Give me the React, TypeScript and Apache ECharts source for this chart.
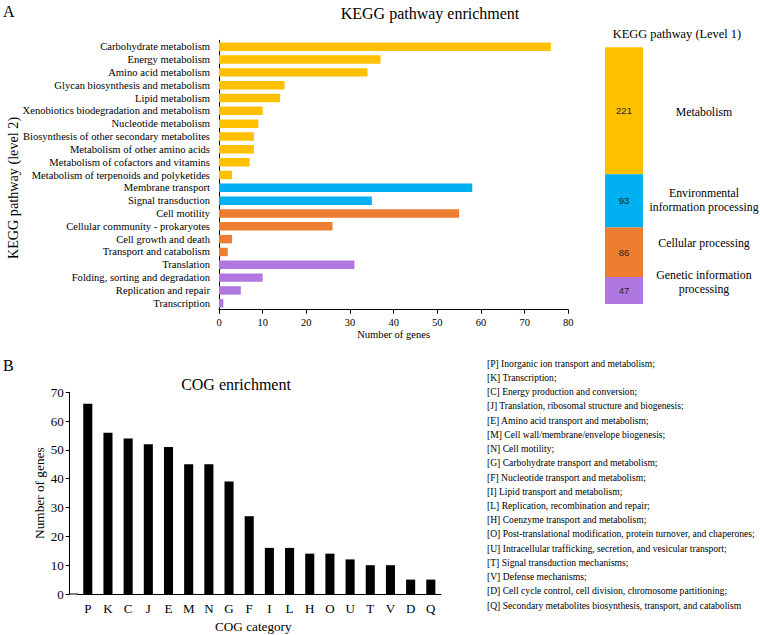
import React, { useEffect, useRef } from "react";
import * as echarts from "echarts";

const keggNames = [
  "Carbohydrate metabolism",
  "Energy metabolism",
  "Amino acid metabolism",
  "Glycan biosynthesis and metabolism",
  "Lipid metabolism",
  "Xenobiotics biodegradation and metabolism",
  "Nucleotide metabolism",
  "Biosynthesis of other secondary metabolites",
  "Metabolism of other amino acids",
  "Metabolism of cofactors and vitamins",
  "Metabolism of terpenoids and polyketides",
  "Membrane transport",
  "Signal transduction",
  "Cell motility",
  "Cellular community - prokaryotes",
  "Cell growth and death",
  "Transport and catabolism",
  "Translation",
  "Folding, sorting and degradation",
  "Replication and repair",
  "Transcription",
];
const keggCounts = [76, 37, 34, 15, 14, 10, 9, 8, 8, 7, 3, 58, 35, 55, 26, 3, 2, 31, 10, 5, 1];
const keggGroup = [0, 0, 0, 0, 0, 0, 0, 0, 0, 0, 0, 1, 1, 2, 2, 2, 2, 3, 3, 3, 3];
const keggTicks = { min: 0, max: 80, interval: 10 };

const level1Names = [
  "Metabolism",
  "Environmental\ninformation processing",
  "Cellular processing",
  "Genetic information\nprocessing",
];
const level1Counts = [221, 93, 86, 47];
const groupColors = ["#FFC000", "#00B0F0", "#ED7D31", "#B077E0"];

const cogCats = ["P", "K", "C", "J", "E", "M", "N", "G", "F", "I", "L", "H", "O", "U", "T", "V", "D", "Q"];
const cogCounts = [66, 56, 54, 52, 51, 45, 45, 39, 27, 16, 16, 14, 14, 12, 10, 10, 5, 5];
const cogTicks = { min: 0, max: 70, interval: 10 };
const cogDescriptions = [
  "[P] Inorganic ion transport and metabolism;",
  "[K] Transcription;",
  "[C] Energy production and conversion;",
  "[J] Translation, ribosomal structure and biogenesis;",
  "[E] Amino acid transport and metabolism;",
  "[M] Cell wall/membrane/envelope biogenesis;",
  "[N] Cell motility;",
  "[G] Carbohydrate transport and metabolism;",
  "[F] Nucleotide transport and metabolism;",
  "[I] Lipid transport and metabolism;",
  "[L] Replication, recombination and repair;",
  "[H] Coenzyme transport and metabolism;",
  "[O] Post-translational modification, protein turnover, and chaperones;",
  "[U] Intracellular trafficking, secretion, and vesicular transport;",
  "[T] Signal transduction mechanisms;",
  "[V] Defense mechanisms;",
  "[D] Cell cycle control, cell division, chromosome partitioning;",
  "[Q] Secondary metabolites biosynthesis, transport, and catabolism",
];

const SERIF = '"Times New Roman", "Liberation Serif", serif';
const SANS = 'Arial, "Liberation Sans", sans-serif';

function txt(text: string, x: number, y: number, size: number, align = "center", extra: any = {}) {
  return {
    type: "text",
    x,
    y,
    silent: true,
    ...extra,
    style: {
      text,
      fill: "#000",
      fontSize: size,
      fontFamily: SERIF,
      textAlign: align,
      align,
      textVerticalAlign: "middle",
      verticalAlign: "middle",
      ...(extra.style || {}),
    },
  };
}

export default function App() {
  const ref = useRef<HTMLDivElement>(null);
  useEffect(() => {
    if (!ref.current) return;
    const chart = echarts.init(ref.current, undefined, { renderer: "svg" });
    const total = level1Counts.reduce((a, b) => a + b, 0);
    const level1Y = [111.7, 200, 242.7, 282.2];
    const level1LH = [13, 13.4, 13, 14.3];

    const graphic: any[] = [
      txt("A", 3, 11, 16, "left"),
      txt("B", 3, 365, 16, "left"),
      txt("KEGG pathway enrichment", 430, 13, 16),
      txt("COG enrichment", 236, 384, 16),
      txt("KEGG pathway (Level 1)", 677, 34, 12.4),
      txt("KEGG pathway (level 2)", 13, 188, 14.2, "center", { rotation: Math.PI / 2 }),
      {
        type: "line",
        silent: true,
        shape: { x1: 69.7, y1: 594, x2: 78, y2: 594 },
        style: { stroke: "#000", lineWidth: 1 },
      },
    ];
    level1Names.forEach((n, i) => {
      graphic.push(txt(n, 704, level1Y[i], 11.8, "center", { style: { lineHeight: level1LH[i] } }));
    });
    cogDescriptions.forEach((d, i) => {
      graphic.push(txt(d, 487, 363.3 + i * 14.22, 9.6, "left"));
    });

    const option: any = {
      animation: false,
      backgroundColor: "#fff",
      grid: [
        { left: 219, top: 40.3, width: 349.3, height: 269.4 },
        { left: 605, top: 47.3, width: 38, height: 256.7 },
        { left: 77.7, top: 392.3, width: 363.2, height: 201.7 },
      ],
      xAxis: [
        {
          gridIndex: 0,
          type: "value",
          ...keggTicks,
          name: "Number of genes",
          nameLocation: "middle",
          nameGap: 17,
          nameTextStyle: { fontFamily: SERIF, fontSize: 10.6, color: "#000" },
          axisLine: { show: true, lineStyle: { color: "#000", width: 1 } },
          axisTick: { show: true, length: 4, lineStyle: { color: "#000" } },
          axisLabel: { fontFamily: SERIF, fontSize: 10.5, color: "#000", margin: 7 },
          splitLine: { show: false },
        },
        {
          gridIndex: 1,
          type: "category",
          data: ["Level 1"],
          show: false,
        },
        {
          gridIndex: 2,
          type: "category",
          data: cogCats,
          name: "COG category",
          nameLocation: "middle",
          nameGap: 25.5,
          nameTextStyle: { fontFamily: SERIF, fontSize: 13.2, color: "#000", padding: [0, 12, 0, 0] },
          axisLine: { show: true, lineStyle: { color: "#000", width: 1 } },
          axisTick: { show: false },
          axisLabel: { fontFamily: SERIF, fontSize: 13, color: "#000", margin: 8, interval: 0 },
        },
      ],
      yAxis: [
        {
          gridIndex: 0,
          type: "category",
          data: keggNames,
          inverse: true,
          axisLine: { show: true, lineStyle: { color: "#000", width: 1 } },
          axisTick: { show: false },
          axisLabel: { fontFamily: SERIF, fontSize: 10.6, color: "#000", margin: 9, interval: 0 },
        },
        {
          gridIndex: 1,
          type: "value",
          min: 0,
          max: total,
          inverse: true,
          show: false,
        },
        {
          gridIndex: 2,
          type: "value",
          ...cogTicks,
          offset: 8,
          name: "Number of genes",
          nameLocation: "middle",
          nameGap: 24,
          nameTextStyle: { fontFamily: SERIF, fontSize: 13.3, color: "#000" },
          axisLine: { show: true, lineStyle: { color: "#000", width: 1 } },
          axisTick: { show: true, length: 4, lineStyle: { color: "#000" } },
          axisLabel: { fontFamily: SERIF, fontSize: 13, color: "#000", margin: 6 },
          splitLine: { show: false },
        },
      ],
      series: [
        {
          type: "bar",
          xAxisIndex: 0,
          yAxisIndex: 0,
          barCategoryGap: "34%",
          data: keggCounts.map((v, i) => ({ value: v, itemStyle: { color: groupColors[keggGroup[i]] } })),
        },
        ...level1Counts.map((v, i) => ({
          type: "bar",
          name: level1Names[i],
          xAxisIndex: 1,
          yAxisIndex: 1,
          stack: "level1",
          barWidth: "100%",
          data: [v],
          itemStyle: { color: groupColors[i] },
          label: {
            show: true,
            position: "inside",
            fontFamily: SANS,
            fontSize: 9.5,
            color: "#222",
          },
        })),
        {
          type: "bar",
          xAxisIndex: 2,
          yAxisIndex: 2,
          barCategoryGap: "55%",
          data: cogCounts,
          itemStyle: { color: "#000" },
        },
      ],
      graphic,
    };
    chart.setOption(option);
    return () => chart.dispose();
  }, []);
  return (
    <div
      ref={ref}
      style={{ position: "absolute", left: 0, top: 0, width: 760, height: 635, background: "#fff" }}
    />
  );
}
